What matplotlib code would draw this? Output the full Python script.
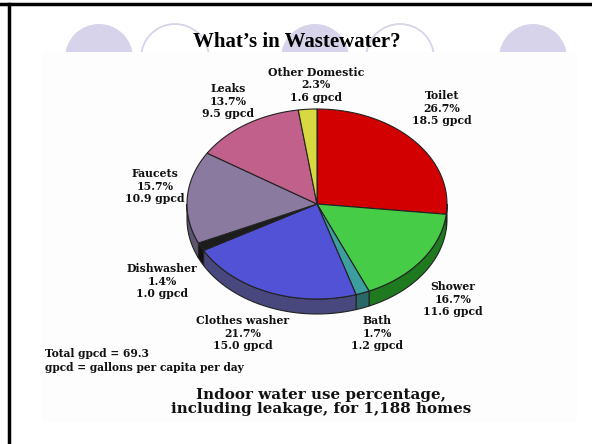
import numpy as np
import matplotlib
matplotlib.use("Agg")
from matplotlib import pyplot as plt
from matplotlib.patches import Polygon, Circle, Rectangle

# indoor water use, clockwise from 12 o'clock
names = ["Toilet", "Shower", "Bath", "Clothes washer", "Dishwasher",
         "Faucets", "Leaks", "Other Domestic"]
pct = [26.7, 16.7, 1.7, 21.7, 1.4, 15.7, 13.7, 2.3]
gpcd = [18.5, 11.6, 1.2, 15.0, 1.0, 10.9, 9.5, 1.6]
top_colors = ["#d20000", "#46cc46", "#3c9e9e", "#5252d6", "#1c1c1c",
              "#8a7aa0", "#c2608c", "#d8d840"]
side_colors = ["#8a0000", "#1f7a1f", "#2a6868", "#48487e", "#111111",
               "#5c5470", "#803c5c", "#909020"]
# label anchor (center x, middle line y) in pixel coords
label_pos = [(442, 108), (453, 299), (377, 333), (243, 333), (162, 281),
             (155, 186), (228, 101), (316, 85)]

total = 69.3

W, H = 592, 444
fig = plt.figure(figsize=(W / 100, H / 100), dpi=100)
ax = fig.add_axes([0, 0, 1, 1])
ax.set_xlim(0, W)
ax.set_ylim(H, 0)
ax.axis("off")

# slide decoration
lav = "#d6d3ea"
for cx, filled in [(99, True), (175, False), (315, True), (400, False), (533, True)]:
    if filled:
        ax.add_patch(Circle((cx, 58), 34, fc=lav, ec="none", zorder=1))
    else:
        ax.add_patch(Circle((cx, 58), 34, fc="none", ec=lav, lw=1.3, zorder=1))
ax.add_patch(Rectangle((42, 52), 535, 370, fc="#fdfdfd", ec="none", zorder=2))
ax.plot([0, W], [4.5, 4.5], color="black", lw=2.5, zorder=10)
ax.plot([8.5, 8.5], [4.5, H], color="black", lw=2.5, zorder=10)

ax.text(297, 42, "What\u2019s in Wastewater?", ha="center", va="center",
        fontsize=15, fontweight="bold", family="Liberation Serif", zorder=5)

# 3d pie
cx, cy, rx, ry, depth = 317, 204, 130, 95, 15
frac = np.array(pct) / sum(pct)
edges = np.concatenate([[0], np.cumsum(frac) * 360])


def pt(t, dy=0):
    t = np.radians(t)
    return cx + rx * np.sin(t), cy - ry * np.cos(t) + dy


for i in range(len(pct)):
    a0, a1 = max(edges[i], 90), min(edges[i + 1], 270)
    if a1 <= a0:
        continue
    ts = np.linspace(a0, a1, 60)
    xs, ys = pt(ts)
    xb, yb = pt(ts[::-1], depth)
    poly = np.column_stack([np.concatenate([xs, xb]), np.concatenate([ys, yb])])
    ax.add_patch(Polygon(poly, closed=True, fc=side_colors[i], ec="#222222",
                         lw=0.8, zorder=3))

for i in range(len(pct)):
    ts = np.linspace(edges[i], edges[i + 1], 100)
    xs, ys = pt(ts)
    poly = np.column_stack([np.concatenate([[cx], xs]), np.concatenate([[cy], ys])])
    ax.add_patch(Polygon(poly, closed=True, fc=top_colors[i], ec="#222222",
                         lw=0.8, zorder=4))

lab_font = dict(family="DejaVu Serif", fontweight="bold", fontsize=7.8, color="#111111")
for i in range(len(pct)):
    x, y = label_pos[i]
    ax.text(x, y, f"{names[i]}\n{pct[i]:.1f}%\n{gpcd[i]:.1f} gpcd", ha="center",
            va="center", multialignment="center", linespacing=1.15, zorder=5, **lab_font)

note_font = dict(family="DejaVu Serif", fontweight="bold", fontsize=7.7, color="#111111")
ax.text(45, 353, f"Total gpcd = {total}", ha="left", va="center", zorder=5, **note_font)
ax.text(45, 367, "gpcd = gallons per capita per day", ha="left", va="center",
        zorder=5, **note_font)

ax.text(321, 402, "Indoor water use percentage,\nincluding leakage, for 1,188 homes",
        ha="center", va="center", multialignment="center", linespacing=1.05,
        family="DejaVu Serif", fontweight="bold", fontsize=10.9, color="#111111", zorder=5)

fig.savefig("out.png", dpi=100)
